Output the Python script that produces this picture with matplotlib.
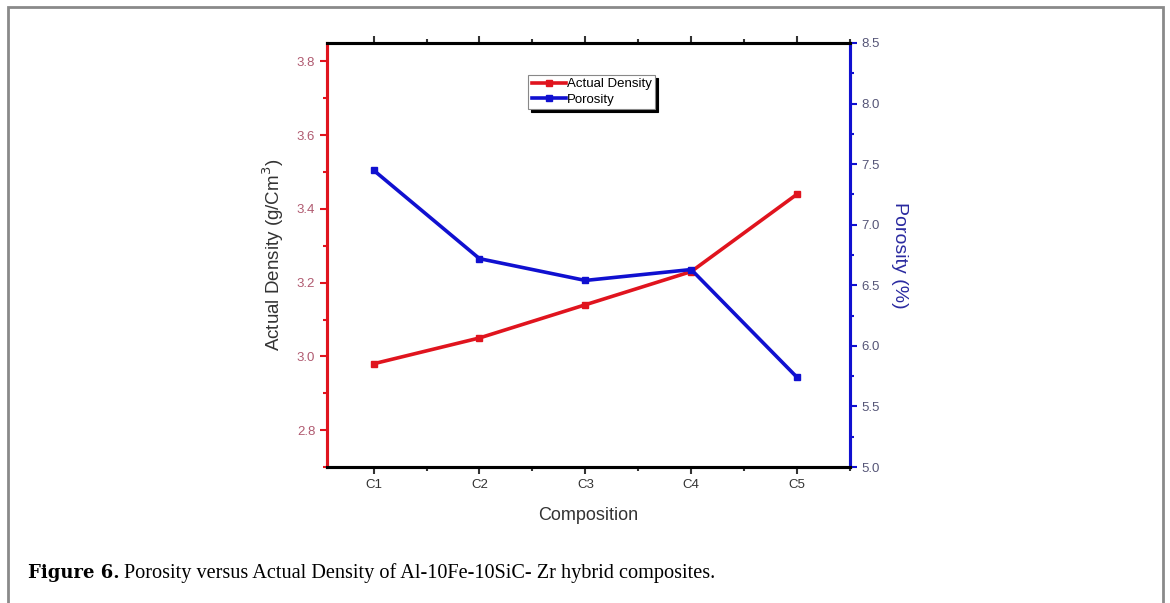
import matplotlib.pyplot as plt
from matplotlib.patches import Rectangle
from matplotlib.ticker import MultipleLocator
import numpy as np

compositions = ['C1', 'C2', 'C3', 'C4', 'C5']
actual_density = [2.98, 3.05, 3.14, 3.23, 3.44]
porosity = [7.45, 6.72, 6.54, 6.63, 5.74]

red = '#e0141e'
blue = '#1010d0'

plt.rcParams['font.family'] = 'Liberation Sans'

fig = plt.figure(figsize=(11.7, 6.03), dpi=100)

# grey page frame around figure + caption
fig.patches.append(Rectangle((8 / 1170, -0.1), 1155 / 1170, 1.1 - 7 / 603,
                             transform=fig.transFigure, fill=False,
                             edgecolor='#8a8a8a', linewidth=2.0))

ax = fig.add_axes([327 / 1170, 1 - 467 / 603, 523 / 1170, 424 / 603])
ax2 = ax.twinx()

x = np.arange(1, len(compositions) + 1)
ax.plot(x, actual_density, color=red, linewidth=2.6, marker='s',
        markersize=5, label='Actual Density')
ax2.plot(x, porosity, color=blue, linewidth=2.6, marker='s',
         markersize=5, label='Porosity')

ax.set_xlim(0.56, 5.5)
ax.set_ylim(2.7, 3.85)
ax2.set_ylim(5.0, 8.5)

ax.set_xticks(x)
ax.set_xticklabels(compositions)
ax.xaxis.set_minor_locator(MultipleLocator(0.5))
ax.yaxis.set_major_locator(MultipleLocator(0.2))
ax.yaxis.set_minor_locator(MultipleLocator(0.1))
ax2.yaxis.set_major_locator(MultipleLocator(0.5))
ax2.yaxis.set_minor_locator(MultipleLocator(0.25))

for a in (ax, ax2):
    for s in a.spines.values():
        s.set_linewidth(2.2)
ax.spines['left'].set_color(red)
ax2.spines['left'].set_color(red)
ax.spines['right'].set_color(blue)
ax2.spines['right'].set_color(blue)
ax.spines['top'].set_color('black')
ax.spines['bottom'].set_color('black')

ax.tick_params(axis='x', which='both', direction='out', top=True,
               labelsize=9.5, colors='#333333', width=1.5)
ax.tick_params(axis='x', which='major', length=5)
ax.tick_params(axis='x', which='minor', length=3)
ax.tick_params(axis='y', which='both', colors=red, labelcolor='#b05a70',
               labelsize=9.5, width=1.5)
ax.tick_params(axis='y', which='major', length=5)
ax.tick_params(axis='y', which='minor', length=3)
ax2.tick_params(axis='y', which='both', colors=blue, labelcolor='#555577',
                labelsize=9.5, width=1.5)
ax2.tick_params(axis='y', which='major', length=5)
ax2.tick_params(axis='y', which='minor', length=3)

ax.set_xlabel('Composition', fontsize=13, color='#333333', labelpad=12)
ax.set_ylabel('Actual Density (g/Cm$^3$)', fontsize=13.5, color='#333333',
              labelpad=8)
ax2.set_ylabel('Porosity (%)', fontsize=14, color='#2a2aa0', rotation=270,
               labelpad=20)

lines = ax.get_lines() + ax2.get_lines()
leg = ax.legend(lines, [l.get_label() for l in lines], loc='upper left',
                bbox_to_anchor=(0.385, 0.925), fontsize=9.5, frameon=True,
                fancybox=False, shadow={'color': 'black', 'alpha': 1.0},
                handlelength=2.6, handletextpad=0.1, borderpad=0.25,
                labelspacing=0.25, borderaxespad=0)
leg.get_frame().set_edgecolor('#888888')
leg.get_frame().set_linewidth(0.8)

fig.text(28 / 1170, 1 - 573 / 603, 'Figure 6.', fontsize=13,
         fontweight='bold', family='DejaVu Serif', va='center')
fig.text(124 / 1170, 1 - 573 / 603,
         'Porosity versus Actual Density of Al-10Fe-10SiC- Zr hybrid composites.',
         fontsize=14.6, family='Liberation Serif', va='center')

fig.savefig('out.png', dpi=100)
